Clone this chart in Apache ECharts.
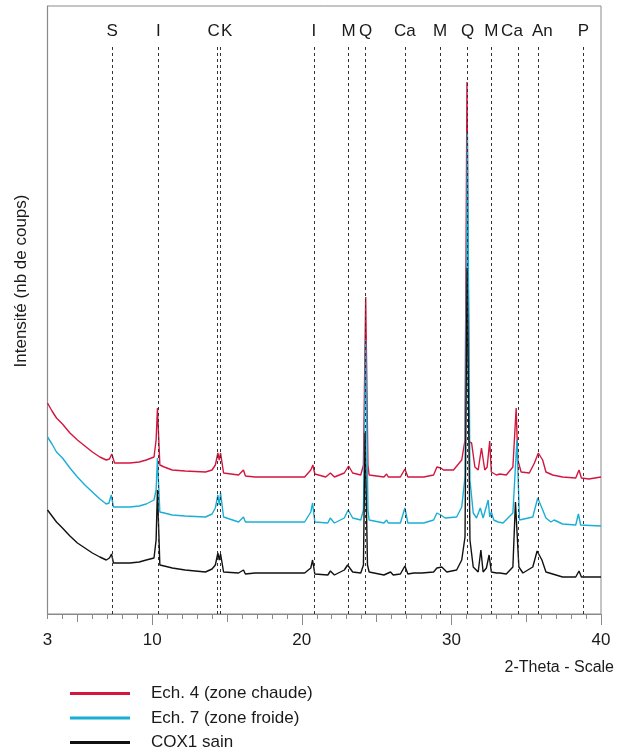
<!DOCTYPE html>
<html>
<head>
<meta charset="utf-8">
<script src="https://cdn.jsdelivr.net/npm/echarts@6/dist/echarts.min.js"></script>
<style>
html,body{margin:0;padding:0;background:#fff;}
#chart{width:617px;height:751px;}
</style>
</head>
<body>
<div id="chart"></div>
<script>
// ---- data (2-Theta, intensity in arbitrary counts) ----
const ech4Points = [
  [3.0,211],[3.3,203],[3.6,196],[4.0,190],[4.5,181],[5.0,174],[5.5,168],[6.0,162],[6.5,157],[6.93,154],
  [7.14,155],[7.30,160],[7.48,151],[8.0,151],[8.5,151],[9.13,152],[9.6,154],[10.12,157],
  [10.26,174],[10.35,206],[10.51,149],[10.8,147],[11.34,144],[12.2,143],[13.56,142],[14.0,144],[14.22,149],[14.39,161],[14.48,154],[14.57,161],
  [14.77,141],[15.77,139],[16.10,144],[16.23,138],[16.87,137],[18.5,137],[20.19,137],[20.60,144],[20.74,149],[20.87,140],
  [21.60,137],[21.91,141],[22.18,137],[22.84,141],[23.13,148],[23.40,141],[23.94,139],[24.12,149],[24.27,317],
  [24.42,149],[24.50,139],[25.49,137],[25.67,140],[25.78,137],[26.59,137],[26.89,145],[27.09,137],[28.15,137],
  [28.81,139],[29.03,147],[29.29,146],[29.47,144],[30.14,144],[30.69,154],[30.91,174],[31.04,532],[31.20,172],
  [31.35,171],[31.57,147],[31.79,144],[32.01,166],[32.23,144],[32.39,147],[32.56,173],[32.67,142],[33.01,139],
  [33.23,140],[33.67,139],[34.11,147],[34.33,206],[34.44,154],[34.66,142],[35.21,141],[35.55,151],[35.81,161],
  [36.10,154],[36.32,142],[36.77,139],[37.43,137],[38.31,136],[38.53,144],[38.69,136],[39.19,135],[40.0,137]
];
const ech7Points = [
  [3.0,177],[3.3,170],[3.6,162],[4.0,156],[4.5,146],[5.0,137],[5.5,129],[6.0,122],[6.5,115],[6.93,110],
  [7.11,111],[7.26,119],[7.41,107],[8.0,107],[8.5,107],[9.13,108],[9.6,110],[10.12,114],
  [10.26,124],[10.35,156],[10.51,102],[10.8,101],[11.34,99],[12.2,98],[13.56,97],[14.0,100],[14.22,106],[14.39,119],[14.48,109],[14.57,121],
  [14.77,97],[15.77,92],[16.10,97],[16.23,92],[16.87,92],[18.5,92],[20.19,92],[20.60,102],[20.72,111],[20.87,92],
  [21.74,91],[21.90,96],[22.18,91],[22.84,96],[23.10,104],[23.40,96],[23.94,94],[24.12,104],[24.27,274],
  [24.42,104],[24.50,94],[25.49,91],[25.67,94],[25.78,91],[26.59,91],[26.89,106],[27.09,91],[28.15,91],
  [28.81,94],[29.03,101],[29.29,99],[29.58,96],[30.35,97],[30.69,107],[30.91,137],[31.07,482],[31.24,134],
  [31.46,101],[31.68,96],[31.93,106],[32.12,96],[32.46,114],[32.56,97],[32.67,102],[32.83,94],[33.12,92],
  [33.18,94],[33.45,91],[34.11,101],[34.38,174],[34.55,94],[35.44,97],[35.77,116],[36.05,106],[36.32,96],
  [36.65,92],[36.87,94],[37.43,90],[38.31,89],[38.49,100],[38.64,89],[40.0,88]
];
const cox1Points = [
  [3.0,104],[3.3,98],[3.6,92],[4.0,86],[4.5,78],[5.0,71],[5.5,66],[6.0,61],[6.5,57],[6.93,54],
  [7.14,56],[7.28,60],[7.41,51],[8.0,51],[8.5,51],[9.13,52],[9.6,54],[10.12,56],
  [10.26,74],[10.35,124],[10.51,49],[10.8,48],[11.34,46],[12.2,44],[13.56,42],[14.0,45],[14.22,49],[14.39,61],[14.48,54],[14.57,60],
  [14.77,42],[15.77,41],[16.10,44],[16.23,40],[16.87,41],[18.5,41],[20.19,41],[20.60,46],[20.72,54],[20.87,40],
  [21.74,39],[21.91,43],[22.18,39],[22.84,44],[23.06,49],[23.40,42],[23.94,41],[24.12,49],[24.23,181],
  [24.39,49],[24.50,42],[25.49,39],[25.93,42],[26.11,39],[26.59,40],[26.89,48],[27.09,40],[27.49,41],
  [28.03,41],[28.81,42],[29.03,46],[29.36,47],[29.69,42],[30.35,44],[30.69,54],[30.91,77],[31.05,346],
  [31.24,74],[31.46,47],[31.79,42],[31.97,64],[32.12,42],[32.34,46],[32.52,59],[32.67,42],[33.01,41],
  [33.23,41],[33.67,40],[34.11,47],[34.28,112],[34.51,47],[34.78,41],[35.44,47],[35.73,63],[36.05,54],
  [36.32,42],[36.77,40],[37.43,37],[38.31,37],[38.53,43],[38.69,37],[40.0,37]
];
// reference lines (mineral phases)
const phaseNames     = ['S','I','C','K','I','M','Q','Ca','M','Q','M','Ca','An','P'];
const phasePositions = [7.32,10.41,14.37,14.57,20.81,23.13,24.27,26.89,29.25,31.08,32.67,34.45,35.81,38.82];
const phaseLabelShift= [0,0,-4,6,0,0,0,0,0,0,0,-6,4,0];
// axis ticks
const labelTicks = [3,10,20,30,40];
const minorTicks = [3,4,5,6,7,8,9,10,11,12,13,14,15,16,17,18,19,20,21,22,23,24,25,26,27,28,29,30,31,32,33,34,35,36,37,38,39,40];
const midTicks   = [5,15,25,35];
const majorTicks = [10,20,30,40];
const seriesNames = ['Ech. 4 (zone chaude)','Ech. 7 (zone froide)','COX1 sain'];
const seriesColors = ['#d4163f','#1aaed6','#111111'];

const FONT = 'Liberation Sans, Arial, sans-serif';
const GRAY = '#8a8a8a';
const LINE_TOP = 569;

const chart = echarts.init(document.getElementById('chart'), null, {renderer:'canvas'});

const markData = phaseNames.map((n,i)=>[
  {coord:[phasePositions[i],0], label:{formatter:n, offset:[phaseLabelShift[i],0]}},
  {coord:[phasePositions[i],LINE_TOP]}
]);

function xa(ticks, len, extra){
  return Object.assign({
    type:'value', min:3, max:40, position:'bottom', gridIndex:0,
    axisLine:{show:false}, splitLine:{show:false},
    axisTick:{show:true, inside:false, customValues:ticks, length:len, lineStyle:{color:GRAY,width:1}},
    axisLabel:{show:false}
  }, extra||{});
}

chart.setOption({
  animation:false,
  backgroundColor:'#fff',
  grid:{left:47.5, right:11.5, top:6, bottom:137, show:true, borderColor:GRAY, borderWidth:1, containLabel:false},
  xAxis:[
    xa(minorTicks,5,{
      axisLine:{show:true, onZero:false, lineStyle:{color:GRAY,width:1.2}},
      axisLabel:{show:true, customValues:labelTicks, fontSize:17, margin:18, color:'#1a1a1a', fontFamily:FONT},
      name:'2-Theta - Scale', nameLocation:'end', nameGap:13,
      nameTextStyle:{fontSize:16, color:'#1a1a1a', fontFamily:FONT, align:'right', verticalAlign:'top', padding:[46,0,0,0]}
    }),
    xa(midTicks,8),
    xa(majorTicks,11)
  ],
  yAxis:{
    type:'value', min:0, max:608,
    axisLine:{show:true, lineStyle:{color:GRAY,width:1.2}},
    axisTick:{show:false}, axisLabel:{show:false}, splitLine:{show:false},
    name:'Intensité (nb de coups)', nameLocation:'middle', nameGap:18, nameRotate:90,
    nameTextStyle:{fontSize:17, color:'#1a1a1a', fontFamily:FONT, padding:[0,0,0,58]}
  },
  legend:{
    orient:'vertical', left:65, top:680, padding:5, icon:'rect', itemWidth:60, itemHeight:3, itemGap:7.5,
    height:80,
    textStyle:{fontSize:17, color:'#1a1a1a', fontFamily:FONT, lineHeight:17, padding:[0,0,0,16]},
    data:seriesNames
  },
  series:[
    {name:seriesNames[0], type:'line', data:ech4Points, showSymbol:false, symbol:'none', z:2,
     lineStyle:{color:seriesColors[0], width:1.4}, itemStyle:{color:seriesColors[0]},
     markLine:{silent:true, symbol:['none','none'], animation:false,
       lineStyle:{color:'#333', width:1, type:[3,3]},
       label:{show:true, position:'end', distance:5, fontSize:17, color:'#1a1a1a', fontFamily:FONT},
       emphasis:{disabled:true},
       data:markData}},
    {name:seriesNames[1], type:'line', data:ech7Points, showSymbol:false, symbol:'none', z:3,
     lineStyle:{color:seriesColors[1], width:1.4}, itemStyle:{color:seriesColors[1]}},
    {name:seriesNames[2], type:'line', data:cox1Points, showSymbol:false, symbol:'none', z:4,
     lineStyle:{color:seriesColors[2], width:1.4}, itemStyle:{color:seriesColors[2]}}
  ]
});
</script>
</body>
</html>
